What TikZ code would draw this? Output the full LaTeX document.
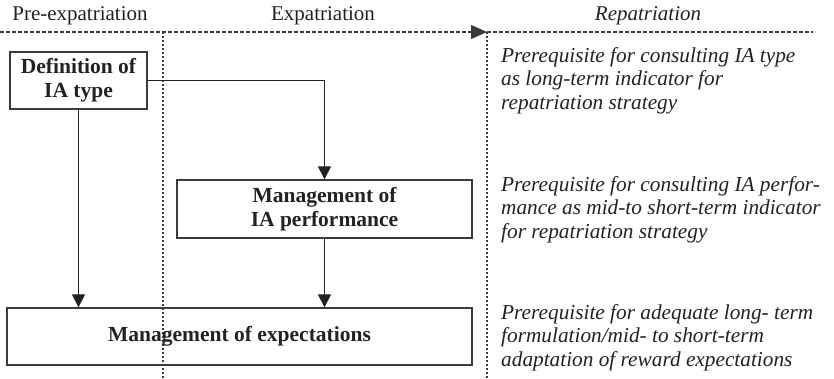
\documentclass[tikz,border=0pt]{standalone}
\usepackage{fontspec}
\setmainfont{Liberation Serif}
\usetikzlibrary{arrows.meta}
\definecolor{ink}{HTML}{222222}
\definecolor{rule}{HTML}{3A3A3A}
\begin{document}
\begin{tikzpicture}[x=1bp,y=-1bp,
  phase/.style={font=\fontsize{21bp}{24bp}\selectfont, text=ink, inner sep=0pt},
  stagebox/.style={draw=rule, line width=1.3bp, font=\fontsize{21.5bp}{24bp}\selectfont\bfseries,
    text=ink, align=center, inner sep=0pt},
  note/.style={font=\fontsize{21.3bp}{23.5bp}\selectfont\itshape, text=ink, align=left,
    anchor=base west, inner sep=0pt},
  flow/.style={draw=ink, line width=1.1bp, -{Triangle[length=13bp,width=13bp]}},
  timeline/.style={draw=rule, line width=1.1bp, dash pattern=on 3.5bp off 2.5bp},
  divider/.style={draw=rule, line width=1.3bp, dash pattern=on 2bp off 2bp}]
\useasboundingbox (0,0) rectangle (834,378);

% phase headings
\node[phase] (pre) at (80,16) {Pre-expatriation};
\node[phase] (exp) at (323,16) {Expatriation};
\node[phase, font=\fontsize{21bp}{24bp}\selectfont\itshape] (rep) at (648,16) {Repatriation};

% time axis and phase dividers
\coordinate (t0) at (0,32);
\coordinate (t1) at (487,32);
\coordinate (t2) at (813,32);
\coordinate (d1top) at (163,32);
\coordinate (d1bot) at (163,378);
\coordinate (d2bot) at (487,378);
\draw[timeline, -{Triangle[length=16bp,width=14bp]}] (t0) -- (t1);
\draw[timeline] (t1) -- (t2);
\draw[divider] (d1top) -- (d1bot);
\draw[divider] (t1) -- (d2bot);

% management stages
\node[stagebox, minimum width=137bp, minimum height=57bp] (def) at (78.5,80.5)
  {Definition of\\IA type};
\node[stagebox, minimum width=295bp, minimum height=58bp] (perf) at (324.5,209)
  {Management of\\IA performance};
\node[stagebox, minimum width=465bp, minimum height=57bp] (expect) at (239.5,336.5)
  {Management of expectations};

% dependencies
\draw[flow] (def.east) -| (perf.north);
\draw[flow] (def.south) -- (def.south |- expect.north);
\draw[flow] (perf.south) -- (perf.south |- expect.north);

% repatriation notes (anchored at the baseline of their last line)
\node[note] (n1) at (501,109) {Prerequisite for consulting IA type\\as long-term indicator for\\repatriation strategy};
\node[note] (n2) at (501,238) {Prerequisite for consulting IA perfor-\\mance as mid-to short-term indicator\\for repatriation strategy};
\node[note] (n3) at (501,366) {Prerequisite for adequate long- term\\formulation/mid- to short-term\\adaptation of reward expectations};
\end{tikzpicture}
\end{document}
